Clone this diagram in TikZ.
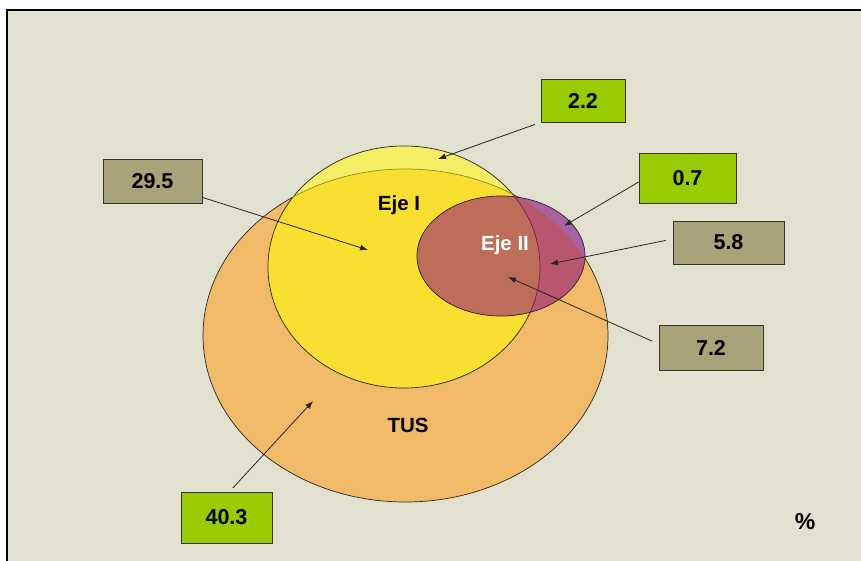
\documentclass[tikz,border=0pt]{standalone}
\usepackage{fontspec}
\setmainfont{Liberation Sans}
\usetikzlibrary{arrows.meta}
\definecolor{bgbeige}{RGB}{226,225,208}
\definecolor{tusorange}{RGB}{240,186,104}
\definecolor{ejeonelight}{RGB}{243,238,100}
\definecolor{ejeoneyellow}{RGB}{248,222,46}
\definecolor{ejeonearc}{RGB}{150,135,40}
\definecolor{ejetwopurple}{RGB}{168,98,162}
\definecolor{ejetwopink}{RGB}{184,86,112}
\definecolor{ejetwobrown}{RGB}{190,110,88}
\definecolor{ejetwoarc}{RGB}{110,30,90}
\definecolor{boxgreen}{RGB}{153,204,0}
\definecolor{boxkhaki}{RGB}{168,164,122}

\begin{document}
\begin{tikzpicture}[x=1pt,y=-1pt,
  tuspath/.style={insert path={(405.5,335.5) ellipse [x radius=202.5pt, y radius=166.5pt]}},
  ejeonepath/.style={insert path={(404,267) ellipse [x radius=136pt, y radius=121pt]}},
  ejetwopath/.style={insert path={(501,256) ellipse [x radius=84pt, y radius=60pt]}},
  outline/.style={draw=black!85,line width=0.7pt},
  numbox/.style={draw=black!80,line width=0.8pt,inner sep=0pt,font=\bfseries\fontsize{21.5}{25}\selectfont},
  greenbox/.style={numbox,fill=boxgreen},
  khakibox/.style={numbox,fill=boxkhaki},
  setlabel/.style={font=\bfseries\fontsize{20.5}{24}\selectfont},
  pointer/.style={draw=black!85,line width=0.8pt,-{Latex[length=8pt,width=6pt]}}]
\useasboundingbox (0,0) rectangle (861,561);
\fill[white] (0,0) rectangle (861,561);
\fill[bgbeige] (7,10) rectangle (861,561);
\draw[line width=2pt] (7,561) -- (7,10) -- (861,10);

% sets
\fill[tusorange,tuspath];
\draw[outline,tuspath];
\fill[ejeonelight,ejeonepath];
\begin{scope}
  \clip[tuspath];
  \fill[ejeoneyellow,ejeonepath];
\end{scope}
\draw[outline,ejeonepath];
\begin{scope}
  \clip[ejeonepath];
  \draw[line width=0.7pt,draw=ejeonearc,tuspath];
\end{scope}
\fill[ejetwopurple,ejetwopath];
\begin{scope}
  \clip[tuspath];
  \fill[ejetwopink,ejetwopath];
  \clip[ejeonepath];
  \fill[ejetwobrown,ejetwopath];
\end{scope}
\draw[outline,ejetwopath];
\begin{scope}
  \clip[ejetwopath];
  \draw[line width=0.7pt,draw=ejetwoarc,ejeonepath];
\end{scope}

\node[setlabel] (ejeone) at (399,205) {Eje I};
\node[setlabel,text=white] (ejetwo) at (505,245) {Eje II};
\node[setlabel] (tus) at (408,425) {TUS};
\node[setlabel,font=\bfseries\fontsize{23}{26}\selectfont] (pct) at (805,522) {\%};

% value boxes
\node[greenbox,minimum width=84pt,minimum height=43pt] (b22) at (583,100.5) {2.2};
\node[greenbox,minimum width=97pt,minimum height=50pt] (b07) at (687.5,178) {0.7};
\node[khakibox,minimum width=111pt,minimum height=43pt] (b58) at (728.5,242.5) {5.8};
\node[khakibox,minimum width=104pt,minimum height=45pt] (b72) at (711,347.5) {7.2};
\node[khakibox,minimum width=99pt,minimum height=44pt] (b295) at (152.5,181) {29.5};
\node[greenbox,minimum width=91pt,minimum height=51pt] (b403) at (226.5,517.5) {40.3};

\coordinate (t22) at (438,159);
\coordinate (t07) at (564,226);
\coordinate (t58) at (550,264);
\coordinate (t72) at (508,277);
\coordinate (t295) at (368,250);
\coordinate (t403) at (313,401);

\draw[pointer,shorten <=6pt] (b22.south west) -- (t22);
\draw[pointer] ([yshift=-4pt]b07.west) -- (t07);
\draw[pointer,shorten <=7pt] ([yshift=3.5pt]b58.west) -- (t58);
\draw[pointer,shorten <=7pt] ([yshift=3.5pt]b72.west) -- (t72);
\draw[pointer] ([yshift=6pt]b295.south east) -- (t295);
\draw[pointer,shorten <=5pt] ([xshift=3pt]b403.north) -- (t403);
\end{tikzpicture}
\end{document}
